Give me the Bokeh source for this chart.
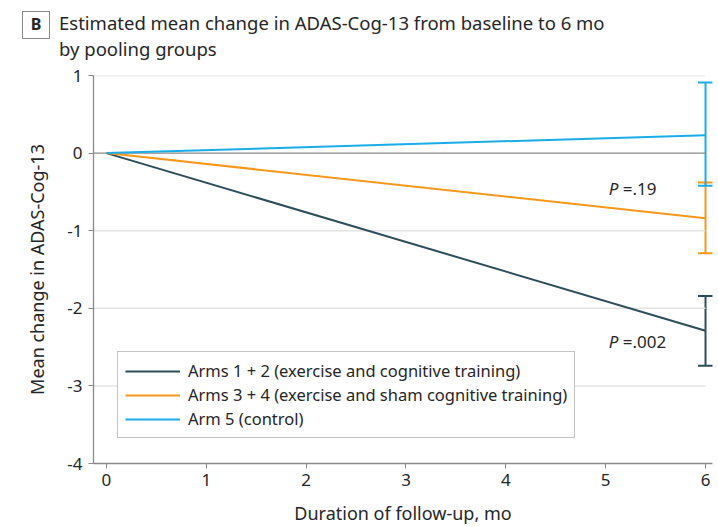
from bokeh.plotting import figure
from bokeh.layouts import column
from bokeh.models import (Range1d, Label, Legend, LegendItem, Whisker, TeeHead,
                          ColumnDataSource, FixedTicker, Div)
from bokeh.embed import file_html
from bokeh.resources import INLINE

# Estimated mean change in ADAS-Cog-13 (pooled groups)
months = [0, 6]
groups = ["Arms 1 + 2 (exercise and cognitive training)",
          "Arms 3 + 4 (exercise and sham cognitive training)",
          "Arm 5 (control)"]
mean_at_6 = [-2.29, -0.84, 0.23]
ci_lower = [-2.74, -1.29, -0.42]
ci_upper = [-1.84, -0.38, 0.91]
colors = ["#2E4D5B", "#F7981D", "#1AADE8"]
p_values = [".002", ".19"]
x_ticks = [0, 1, 2, 3, 4, 5, 6]
y_ticks = [-4, -3, -2, -1, 0, 1]
panel_letter = "B"
heading = ["Estimated mean change in ADAS-Cog-13 from baseline to 6 mo",
           "by pooling groups"]

FONT = "Noto Sans"
TXT = "#262626"
AXIS = "#8A8A8A"

p = figure(width=718, height=462, output_backend="svg", toolbar_location=None,
           x_range=Range1d(-0.13, 6.07), y_range=Range1d(-4, 1),
           min_border_left=93, min_border_right=6, min_border_top=10,
           min_border_bottom=64)
p.title = None
p.outline_line_color = None
p.xgrid.grid_line_color = None
p.ygrid.grid_line_color = None

# horizontal grid lines stop at the last follow-up month
grid_y = [t for t in y_ticks if t not in (0, -4)]
p.segment(x0=[-0.13] * len(grid_y), x1=[6] * len(grid_y), y0=grid_y, y1=grid_y,
          line_color="#E3E3E3", line_width=1.5)
p.segment(x0=[-0.13], x1=[6], y0=[0], y1=[0], line_color=AXIS, line_width=1.3)

for ax in (p.xaxis[0], p.yaxis[0]):
    ax.axis_line_color = AXIS
    ax.axis_line_width = 1.3
    ax.major_tick_line_color = AXIS
    ax.major_tick_in = 0
    ax.major_tick_out = 5
    ax.minor_tick_line_color = None
    ax.major_label_text_font = FONT
    ax.major_label_text_font_size = "17px"
    ax.major_label_text_color = TXT
    ax.axis_label_text_font = FONT
    ax.axis_label_text_font_size = "18px"
    ax.axis_label_text_font_style = "normal"
    ax.axis_label_text_color = TXT

p.xaxis.ticker = FixedTicker(ticks=x_ticks)
p.yaxis.ticker = FixedTicker(ticks=y_ticks)
p.yaxis.major_label_overrides = {t: str(t) for t in y_ticks}
p.xaxis.axis_label = "Duration of follow-up, mo"
p.yaxis.axis_label = "Mean change in ADAS-Cog-13"
p.xaxis.major_label_standoff = 5
p.yaxis.major_label_standoff = 6
p.xaxis.axis_label_standoff = 12
p.yaxis.axis_label_standoff = 15

items = []
for name, m, lo, hi, c in zip(groups, mean_at_6, ci_lower, ci_upper, colors):
    r = p.line(x=months, y=[0, m], line_color=c, line_width=2)
    src = ColumnDataSource(dict(x=[months[-1]], lower=[lo], upper=[hi]))
    w = Whisker(source=src, base="x", lower="lower", upper="upper",
                line_color=c, line_width=2,
                upper_head=TeeHead(size=15, line_color=c, line_width=2),
                lower_head=TeeHead(size=15, line_color=c, line_width=2))
    p.add_layout(w)
    items.append(LegendItem(label=name, renderers=[r]))

# P values for each exercise group vs control (italic P)
p_text_y = [-2.43, -0.45]
for pv, y in zip(p_values, p_text_y):
    p.add_layout(Label(x=5.03, y=y, text="P", text_font=FONT,
                       text_font_style="italic", text_font_size="17px",
                       text_color=TXT, text_baseline="middle"))
    p.add_layout(Label(x=5.03, y=y, x_offset=14, text="=" + pv, text_font=FONT,
                       text_font_size="17px", text_color=TXT,
                       text_baseline="middle"))

legend = Legend(items=items, location=(24, 25), border_line_color=AXIS,
                border_line_width=1.5, label_text_font=FONT,
                label_text_font_size="16.5px", label_text_color=TXT,
                glyph_width=55, glyph_height=20, label_standoff=8, spacing=1,
                padding=7, margin=0, background_fill_alpha=1)
p.add_layout(legend, "center")

# boxed panel letter with the two-line heading
line_style = ("position:absolute;left:59px;font-size:18.5px;line-height:18.5px;"
              "white-space:nowrap")
header_html = f"""
<div style="position:relative;width:718px;height:65px;font-family:'{FONT}';color:{TXT}">
  <div style="position:absolute;left:22px;top:11px;width:28px;height:28px;
       box-sizing:border-box;border:1.3px solid {AXIS};font-weight:bold;
       font-size:16px;line-height:25px;text-align:center">{panel_letter}</div>
  <div style="{line_style};top:14px">{heading[0]}</div>
  <div style="{line_style};top:40px">{heading[1]}</div>
</div>
"""
header = Div(text=header_html, width=718, height=65, margin=0)

layout = column(header, p, spacing=0)
open("out.html", "w").write(file_html(layout, INLINE))
